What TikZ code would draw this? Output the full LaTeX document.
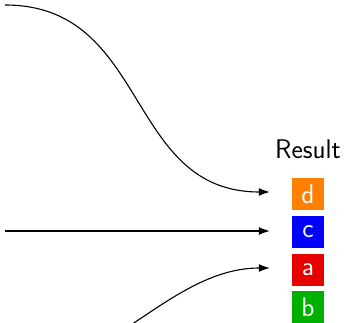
\documentclass[tikz,border=0pt]{standalone}
\usepackage{fontspec}
\usetikzlibrary{arrows.meta}
\definecolor{cor}{RGB}{255,128,0}
\definecolor{cbl}{RGB}{0,0,255}
\definecolor{crd}{RGB}{230,0,0}
\definecolor{cgr}{RGB}{0,176,0}
\begin{document}
\begin{tikzpicture}[x=1pt,y=-1pt,
  box/.style={minimum width=32pt,minimum height=32pt,inner sep=0pt,text=white,
    font=\sffamily\fontsize{27}{32}\selectfont},
  conn/.style={-{Latex[length=11pt,width=8pt]},line width=1.1pt}]
\useasboundingbox (0,0) rectangle (346,323);
\node[box,fill=cor] (d) at (308,194) {d};
\node[box,fill=cbl] (c) at (308,232) {c};
\node[box,fill=crd] (a) at (308,270) {a};
\node[box,fill=cgr] (b) at (308,307) {b};
\node[font=\sffamily\fontsize{27}{32}\selectfont,anchor=base,inner sep=0pt] (res) at (308,159) {Result};
\coordinate (ed) at ([shift={(-22pt,2pt)}]d.west);
\coordinate (ec) at ([shift={(-22pt,1pt)}]c.west);
\coordinate (ea) at ([shift={(-22pt,2pt)}]a.west);
\coordinate (sd) at (5,5);
\coordinate (sc) at (5,231);
\coordinate (sa) at (5,375);
\draw[conn] (sd) .. controls +(145,0) and +(-145,0) .. (ed);
\draw[conn] (sc) -- (ec);
\draw[conn] (sa) .. controls +(100,0) and +(-100,0) .. (ea);
\end{tikzpicture}
\end{document}
